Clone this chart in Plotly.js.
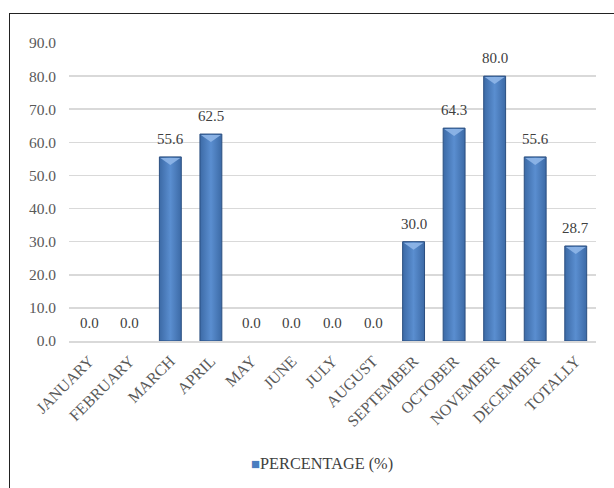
<!DOCTYPE html>
<html>
<head>
<meta charset="utf-8">
<script src="https://cdn.plot.ly/plotly-3.0.1.min.js"></script>
<style>
html,body{margin:0;padding:0;background:#fff;}
#chart{width:614px;height:488px;position:absolute;left:0;top:0;}
#frame{position:absolute;left:9px;top:13px;width:620px;height:490px;border-left:1.5px solid #222;border-top:1.5px solid #222;pointer-events:none;}
</style>
</head>
<body>
<div id="chart"></div>
<div id="frame"></div>
<script>
const months = ["JANUARY","FEBRUARY","MARCH","APRIL","MAY","JUNE","JULY","AUGUST","SEPTEMBER","OCTOBER","NOVEMBER","DECEMBER","TOTALLY"];
const percentage = [0.0,0.0,55.6,62.5,0.0,0.0,0.0,0.0,30.0,64.3,80.0,55.6,28.7];
const seriesName = "PERCENTAGE (%)";
const yTicks = [0,10,20,30,40,50,60,70,80,90];

const SERIF = "Liberation Serif";
const trace = {
  type: "bar",
  x: months,
  y: percentage,
  name: seriesName,
  width: 0.54,
  marker: {color: "#4a7ebf", line: {color: "#2b4f80", width: percentage.map(v => v > 0 ? 1 : 0)}},
  hoverinfo: "none",
  showlegend: false
};

const labelAnns = months.map((m, i) => ({
  x: m, y: percentage[i], xref: "x", yref: "y",
  text: percentage[i].toFixed(1), showarrow: false,
  yanchor: "bottom", yshift: 8,
  font: {family: SERIF, size: 15, color: "#404040"}
}));

const legendAnn = {
  xref: "paper", yref: "paper", x: 0.481, y: -0.41, xanchor: "center", yanchor: "middle",
  showarrow: false,
  text: "<span style='color:#4a7ebf;font-size:15px'>■</span>" + seriesName,
  font: {family: SERIF, size: 16.3, color: "#404040"}
};

const layout = {
  width: 614, height: 488,
  margin: {l: 69, r: 18, t: 43, b: 147},
  paper_bgcolor: "#fff", plot_bgcolor: "#fff",
  showlegend: false,
  xaxis: {
    tickangle: -45, tickfont: {family: SERIF, size: 16, color: "#595959"},
    showgrid: false, showline: true, linecolor: "#d9d9d9", linewidth: 1.5, ticks: "",
    ticklabelstandoff: 3, fixedrange: true
  },
  yaxis: {
    range: [0, 90], tickvals: yTicks, ticktext: yTicks.map(v => v.toFixed(1)),
    tickfont: {family: SERIF, size: 15.5, color: "#595959"},
    showgrid: true, gridcolor: "#d9d9d9", gridwidth: 1.5, zeroline: false, showline: false,
    ticks: "", ticklen: 0, ticklabelstandoff: 12, fixedrange: true
  },
  annotations: labelAnns.concat([legendAnn]),
  bargap: 0.46
};

Plotly.newPlot("chart", [trace], layout, {displayModeBar: false, staticPlot: true}).then(gd => {
  // horizontal gradient + top bevel styling on the rendered bars
  const svg = gd.querySelector("svg.main-svg");
  const NS = "http://www.w3.org/2000/svg";
  let defs = svg.querySelector("defs");
  const grad = document.createElementNS(NS, "linearGradient");
  grad.setAttribute("id", "barGrad");
  grad.setAttribute("x1", "0"); grad.setAttribute("x2", "1"); grad.setAttribute("y1", "0"); grad.setAttribute("y2", "0");
  [["0", "#3c6aa6"], ["0.5", "#5a8ed0"], ["1", "#3c6aa6"]].forEach(([o, c]) => {
    const s = document.createElementNS(NS, "stop");
    s.setAttribute("offset", o); s.setAttribute("stop-color", c); grad.appendChild(s);
  });
  defs.appendChild(grad);
  gd.querySelectorAll(".barlayer .point path").forEach(p => {
    const b = p.getBBox();
    if (b.height < 2) return;
    p.style.fill = "url(#barGrad)";
    const tri = document.createElementNS(NS, "polygon");
    const x0 = b.x + 1, x1 = b.x + b.width - 1, y0 = b.y + 1;
    tri.setAttribute("points", `${x0},${y0} ${x1},${y0} ${(x0 + x1) / 2},${y0 + 7}`);
    tri.setAttribute("fill", "#8fb6e8");
    tri.setAttribute("opacity", "0.9");
    p.parentNode.appendChild(tri);
  });
});
</script>
</body>
</html>
